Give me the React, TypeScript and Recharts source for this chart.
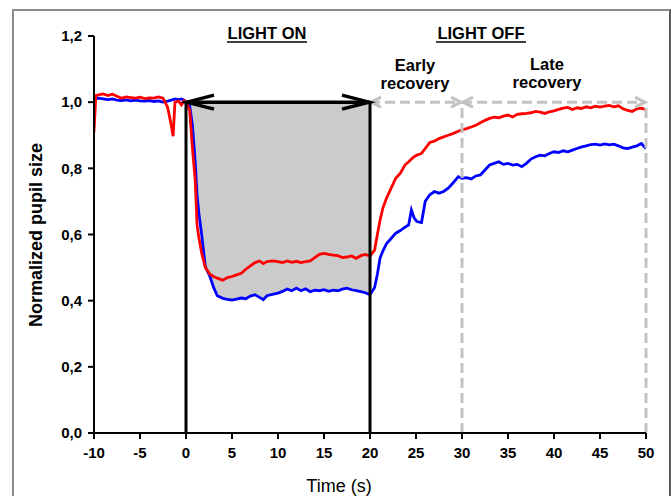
import { Area, ComposedChart, Line, ReferenceLine, XAxis, YAxis } from "recharts";

// the picture fills the whole page, so drop the default body margin
document.body.style.margin = "0";

// time axis (s)
const times = [
  -10, -9.8, -9.5, -9, -8.5, -8, -7.5, -7, -6.5, -6, -5.5, -5, -4.5, -4, -3.5, -3, -2.5, -2, -1.6, -1.4, -1.2,
  -0.8, -0.5, -0.2, 0, 0.4, 0.7, 1.0, 1.2, 1.4, 1.7, 2.1, 2.6, 3.0, 3.4, 4.0, 4.5, 5.0, 5.5, 6.0, 6.5, 7.0, 7.5,
  8.0, 8.4, 8.8, 9.5, 10, 10.5, 11, 11.5, 12, 12.5, 13, 13.5, 14, 14.5, 15, 15.5, 16, 16.5, 17, 17.5, 18, 18.5,
  19, 19.5, 20, 20.5, 20.8, 21.1, 21.4, 21.8, 22.2, 22.8, 23.3, 23.8, 24.2, 24.5, 24.8, 25.1, 25.6, 26, 26.5, 27,
  27.5, 28, 28.5, 29, 29.6, 30, 30.5, 31, 31.5, 32, 32.5, 33, 33.5, 34, 34.5, 35, 35.5, 36, 36.5, 37, 37.5, 38,
  38.5, 39, 39.5, 40, 40.5, 41, 41.5, 42, 42.5, 43, 43.5, 44, 44.5, 45, 45.5, 46, 46.5, 47, 47.5, 48, 48.5, 49,
  49.5, 50
];

const redTrace = [
  0.91, 1.02, 1.022, 1.025, 1.02, 1.024, 1.018, 1.012, 1.016, 1.014, 1.012, 1.015, 1.011, 1.013, 1.012, 1.016,
  1.012, 0.985, 0.93, 0.897, 1.0, 1.003, 0.992, 1.004, 1.0, 0.975, 0.86, 0.765, 0.63, 0.59, 0.544, 0.5, 0.48,
  0.473, 0.468, 0.462, 0.47, 0.473, 0.478, 0.483, 0.495, 0.505, 0.515, 0.52, 0.512, 0.518, 0.52, 0.518, 0.515,
  0.52, 0.516, 0.519, 0.515, 0.518, 0.52, 0.53, 0.54, 0.543, 0.54, 0.538, 0.536, 0.53, 0.532, 0.535, 0.528,
  0.536, 0.54, 0.535, 0.553, 0.6, 0.644, 0.68, 0.71, 0.734, 0.77, 0.785, 0.81, 0.82, 0.828, 0.835, 0.84, 0.845,
  0.86, 0.878, 0.882, 0.89, 0.895, 0.9, 0.905, 0.912, 0.916, 0.92, 0.925, 0.93, 0.938, 0.945, 0.951, 0.955,
  0.953, 0.958, 0.961, 0.955, 0.963, 0.965, 0.966, 0.968, 0.972, 0.97, 0.966, 0.971, 0.974, 0.978, 0.982, 0.984,
  0.978, 0.983, 0.981, 0.986, 0.983, 0.988, 0.985, 0.988, 0.99, 0.986, 0.989, 0.98, 0.975, 0.972, 0.98, 0.982,
  0.977
];

const blueTrace = [
  1.0, 1.01, 1.012, 1.01, 1.008, 1.01, 1.006, 1.005, 1.007, 1.004, 1.006, 1.004, 1.003, 1.005, 1.002, 1.004,
  1.0, 1.003, 1.006, 1.008, 1.01, 1.008, 1.01, 1.006, 1.0, 0.99, 0.93, 0.82, 0.72, 0.664, 0.6, 0.503, 0.473,
  0.44, 0.415, 0.407, 0.404, 0.402, 0.405, 0.408, 0.406, 0.414, 0.418, 0.41, 0.403, 0.415, 0.42, 0.423, 0.428,
  0.435, 0.43, 0.438, 0.43, 0.436, 0.427, 0.432, 0.43, 0.433, 0.428, 0.432, 0.43, 0.435, 0.438, 0.433, 0.43,
  0.427, 0.424, 0.418, 0.44, 0.48, 0.53, 0.55, 0.573, 0.585, 0.604, 0.612, 0.622, 0.629, 0.674, 0.65, 0.639,
  0.636, 0.7, 0.72, 0.73, 0.725, 0.73, 0.74, 0.755, 0.775, 0.77, 0.772, 0.768, 0.777, 0.78, 0.795, 0.81, 0.815,
  0.82, 0.812, 0.815, 0.81, 0.812, 0.805, 0.815, 0.828, 0.835, 0.84, 0.838, 0.845, 0.85, 0.848, 0.853, 0.85,
  0.855, 0.86, 0.865, 0.868, 0.872, 0.873, 0.87, 0.874, 0.871, 0.873, 0.868, 0.862, 0.86, 0.864, 0.868, 0.875,
  0.86
];

const xTicks = [-10, -5, 0, 5, 10, 15, 20, 25, 30, 35, 40, 45, 50];
const yTicks = [0, 0.2, 0.4, 0.6, 0.8, 1.0, 1.2];

const lightOnStart = 0;
const lightOnEnd = 20;
const earlyEnd = 30;
const lateEnd = 50;
const baseline = 1.0;

const data = times.map((t, i) => ({
  t,
  red: redTrace[i],
  blue: blueTrace[i],
  shade: t >= lightOnStart && t <= lightOnEnd ? [blueTrace[i], baseline] : null
}));

const GREY = "#c3c3c3";
const FONT = "'Liberation Sans', Arial, sans-serif";

const doubleArrow = (color: string, width: number, head: number, spread: number, dash?: string) =>
  (p: any) => {
    const { x1, y1, x2, y2 } = p;
    const left = Math.min(x1, x2);
    const right = Math.max(x1, x2);
    const y = (y1 + y2) / 2;
    return (
      <g>
        <line x1={left} y1={y} x2={right} y2={y} stroke={color} strokeWidth={width} strokeDasharray={dash} />
        <polyline
          points={`${left + head},${y - spread} ${left + 1},${y} ${left + head},${y + spread}`}
          fill="none"
          stroke={color}
          strokeWidth={width}
        />
        <polyline
          points={`${right - head},${y - spread} ${right - 1},${y} ${right - head},${y + spread}`}
          fill="none"
          stroke={color}
          strokeWidth={width}
        />
      </g>
    );
  };

const fmt = (v: number) => v.toFixed(1).replace(".", ",");

const tickStyle = { fill: "#000", fontSize: 15, fontWeight: "bold", fontFamily: FONT };

export default function App() {
  return (
    <div style={{ position: "relative", width: 671, height: 496, overflow: "hidden", background: "#fff" }}>
      <div
        style={{
          position: "absolute",
          left: 12,
          top: 9,
          width: 659,
          height: 487,
          borderTop: "2px solid #8c8c8c",
          borderLeft: "2px solid #8c8c8c",
          borderRight: "2px solid #5a5a5a",
          boxSizing: "border-box"
        }}
      />
      <ComposedChart
        width={671}
        height={496}
        data={data}
        margin={{ top: 36, right: 25, left: 0, bottom: 23 }}
        style={{ position: "absolute", left: 0, top: 0 }}
      >
        <XAxis
          dataKey="t"
          type="number"
          domain={[-10, 50]}
          ticks={xTicks}
          allowDataOverflow
          height={40}
          axisLine={{ stroke: "#000", strokeWidth: 2 }}
          tickLine={{ stroke: "#000", strokeWidth: 2 }}
          tickSize={6}
          tickMargin={8}
          tick={tickStyle}
        />
        <YAxis
          type="number"
          domain={[0, 1.2]}
          ticks={yTicks}
          width={94}
          tickFormatter={fmt}
          axisLine={{ stroke: "#000", strokeWidth: 2 }}
          tickLine={{ stroke: "#000", strokeWidth: 2 }}
          tickSize={6}
          tickMargin={6}
          tick={tickStyle}
        />
        <Area
          dataKey="shade"
          type="linear"
          stroke="none"
          fill="#cbcbcb"
          fillOpacity={1}
          isAnimationActive={false}
          activeDot={false}
        />
        <Line dataKey="blue" type="linear" stroke="#0000ff" strokeWidth={2.8} dot={false} isAnimationActive={false} />
        <Line dataKey="red" type="linear" stroke="#ff0000" strokeWidth={2.8} dot={false} isAnimationActive={false} />
        <ReferenceLine
          segment={[{ x: earlyEnd, y: 0 }, { x: earlyEnd, y: baseline }]}
          stroke={GREY}
          strokeWidth={3}
          strokeDasharray="10 5"
        />
        <ReferenceLine
          segment={[{ x: lateEnd, y: 0 }, { x: lateEnd, y: baseline }]}
          stroke={GREY}
          strokeWidth={3}
          strokeDasharray="10 5"
        />
        <ReferenceLine
          segment={[{ x: lightOnEnd, y: baseline }, { x: earlyEnd, y: baseline }]}
          shape={doubleArrow(GREY, 3, 11, 5, "10 5")}
        />
        <ReferenceLine
          segment={[{ x: earlyEnd, y: baseline }, { x: lateEnd, y: baseline }]}
          shape={doubleArrow(GREY, 3, 11, 5, "10 5")}
        />
        <ReferenceLine
          segment={[{ x: lightOnStart, y: 0 }, { x: lightOnStart, y: baseline }]}
          stroke="#000"
          strokeWidth={3}
        />
        <ReferenceLine
          segment={[{ x: lightOnEnd, y: 0 }, { x: lightOnEnd, y: baseline }]}
          stroke="#000"
          strokeWidth={3}
        />
        <ReferenceLine
          segment={[{ x: lightOnStart, y: baseline }, { x: lightOnEnd, y: baseline }]}
          shape={doubleArrow("#000", 3.5, 28, 7)}
        />
      </ComposedChart>
      <svg
        width={671}
        height={496}
        style={{ position: "absolute", left: 0, top: 0, pointerEvents: "none" }}
        fontFamily={FONT}
      >
        <g fontWeight="bold" fontSize={16.5} textAnchor="middle" fill="#000">
          <text x={267} y={39}>LIGHT ON</text>
          <line x1={227} y1={42} x2={307} y2={42} stroke="#000" strokeWidth={1.5} />
          <text x={481} y={39}>LIGHT OFF</text>
          <line x1={436} y1={42} x2={526} y2={42} stroke="#000" strokeWidth={1.5} />
          <text x={415} y={71}>Early</text>
          <text x={415} y={89}>recovery</text>
          <text x={547} y={70}>Late</text>
          <text x={547} y={88}>recovery</text>
          <text x={0} y={0} fontSize={18} transform="translate(42 235) rotate(-90)">Normalized pupil size</text>
        </g>
        <text x={339} y={492} fontSize={18} textAnchor="middle" fill="#000">Time (s)</text>
      </svg>
    </div>
  );
}
